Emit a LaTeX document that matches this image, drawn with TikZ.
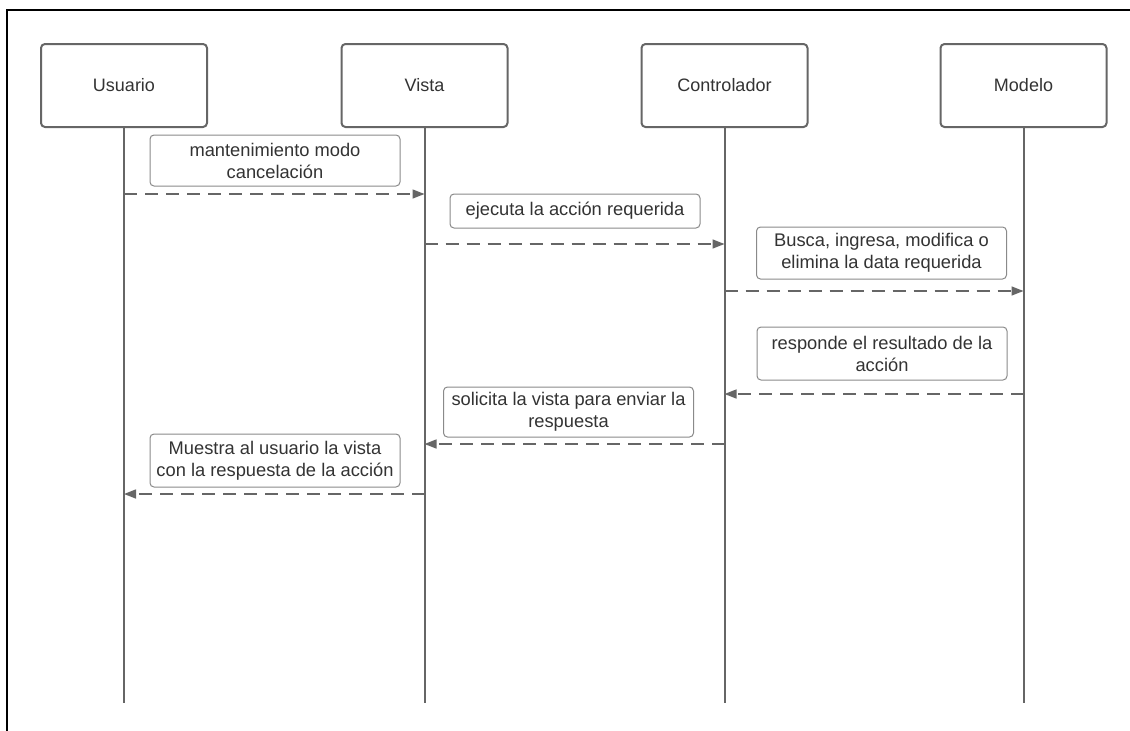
\documentclass[tikz,border=0pt]{standalone}
\usepackage{fontspec}
\setmainfont{Liberation Sans}
\usetikzlibrary{arrows.meta}
\definecolor{ln}{HTML}{666666}
\definecolor{lb}{HTML}{8A8A8A}
\definecolor{tx}{HTML}{333333}
\begin{document}
\begin{tikzpicture}[x=1pt,y=-1pt,
  actor/.style={draw=ln,line width=2pt,rounded corners=4pt,minimum width=166pt,minimum height=83pt,text=tx,font=\fontsize{18}{22}\selectfont,fill=white},
  lifeline/.style={draw=ln,line width=2pt},
  msg/.style={draw=ln,line width=1.4pt,dash pattern=on 13pt off 8pt,-{Triangle[length=12pt,width=9pt]}},
  lbl/.style={draw=lb,line width=1pt,rounded corners=4pt,minimum width=250pt,text=tx,align=center,font=\fontsize{18.3}{22}\selectfont,inner sep=1pt,fill=white},
  frame/.style={draw=black,line width=2pt}]
\useasboundingbox (0,0) rectangle (1130,731);
\coordinate (fa) at (7,731);
\coordinate (fb) at (7,10);
\coordinate (fc) at (1130,10);
\draw[frame] (fa) -- (fb) -- (fc);
% actors
\node[actor] (U) at (124,85.5) {Usuario};
\node[actor] (V) at (424.5,85.5) {Vista};
\node[actor] (C) at (724.5,85.5) {Controlador};
\node[actor] (M) at (1023.5,85.5) {Modelo};
\coordinate (Ue) at (124,703);
\coordinate (Ve) at (424.5,703);
\coordinate (Ce) at (724.5,703);
\coordinate (Me) at (1023.5,703);
\draw[lifeline] (U.south) -- (Ue);
\draw[lifeline] (V.south) -- (Ve);
\draw[lifeline] (C.south) -- (Ce);
\draw[lifeline] (M.south) -- (Me);
% message anchor points
\coordinate (u1) at (124,194);   \coordinate (v1) at (424.5,194);
\coordinate (v2) at (424.5,244); \coordinate (c2) at (724.5,244);
\coordinate (c3) at (724.5,291); \coordinate (m3) at (1023.5,291);
\coordinate (m4) at (1023.5,394);\coordinate (c4) at (724.5,394);
\coordinate (c5) at (724.5,444); \coordinate (v5) at (424.5,444);
\coordinate (v6) at (424.5,494); \coordinate (u6) at (124,494);
\draw[msg] (u1) -- (v1);
\draw[msg] (v2) -- (c2);
\draw[msg] (c3) -- (m3);
\draw[msg] (m4) -- (c4);
\draw[msg] (c5) -- (v5);
\draw[msg] (v6) -- (u6);
% labels
\node[lbl,minimum height=51pt] (L1) at (275,160.5) {mantenimiento modo\\cancelación};
\node[lbl,minimum height=34pt] (L2) at (575,211) {ejecuta la acción requerida};
\node[lbl,minimum height=52pt] (L3) at (881.5,253) {Busca, ingresa, modifica o\\elimina la data requerida};
\node[lbl,minimum height=53pt] (L4) at (882,353.5) {responde el resultado de la\\acción};
\node[lbl,minimum height=50pt] (L5) at (568.5,412) {solicita la vista para enviar la\\respuesta};
\node[lbl,minimum height=53pt] (L6) at (275,460.5) {Muestra al usuario la vista\\con la respuesta de la acción};
\end{tikzpicture}
\end{document}
